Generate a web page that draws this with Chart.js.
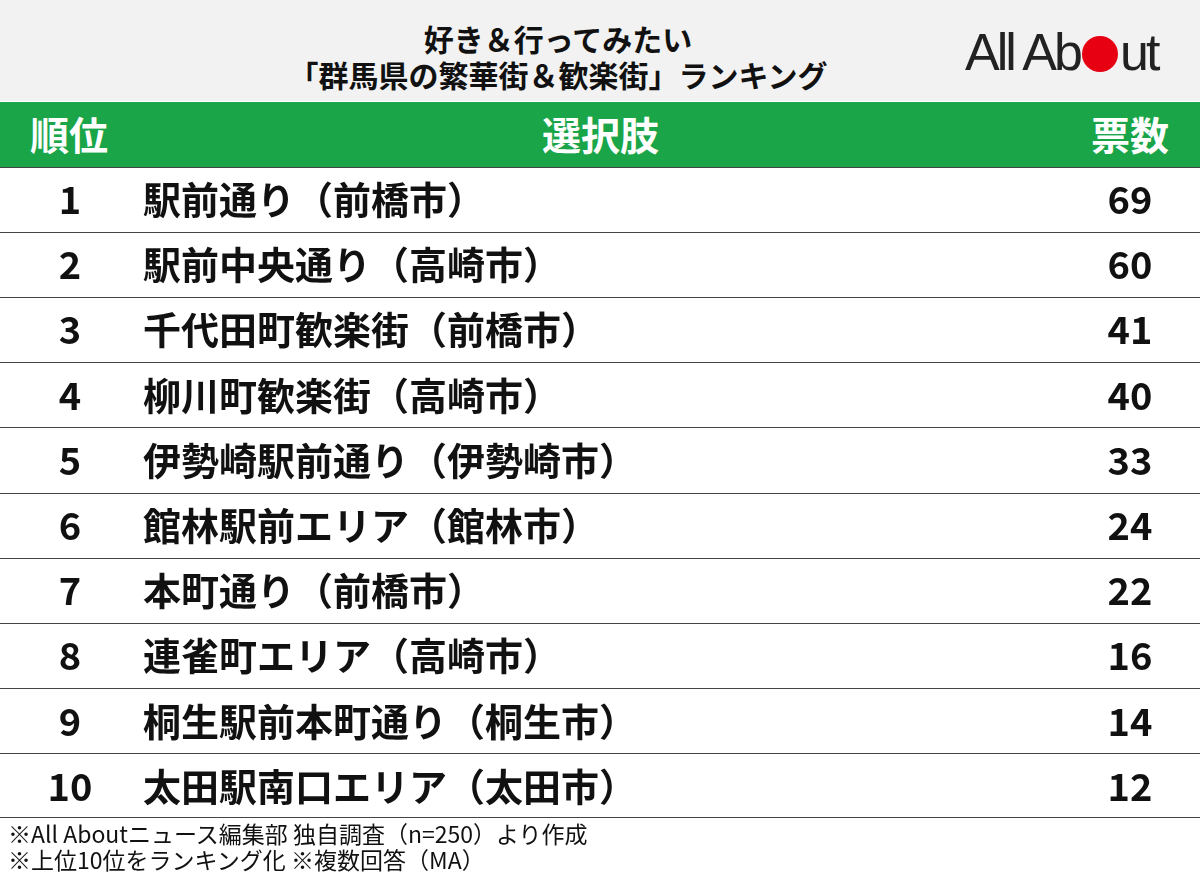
<!DOCTYPE html>
<html><head><meta charset="utf-8">
<script src="https://cdn.jsdelivr.net/npm/chart.js@4/dist/chart.umd.min.js"></script>
<style>
body{margin:0;width:1200px;height:885px;background:#fff;font-family:"Noto Sans CJK JP",sans-serif;overflow:hidden;position:relative}
#top{position:absolute;left:0;top:0;width:1200px;height:101px;background:#f2f2f2}
#title{position:absolute;left:0;width:1116px;top:20px;text-align:center;font-weight:bold;font-size:30px;line-height:36px;color:#111}
#logo{position:absolute;left:965px;top:22px;font-family:"Liberation Sans",Arial,sans-serif;font-size:52px;letter-spacing:-3px;color:#222}
#logo span{display:inline-block;width:36px;height:36px;border-radius:50%;background:#e60012;vertical-align:-2px;margin:0 2px}
#head{position:absolute;left:0;top:102px;width:1200px;height:65px;background:#1aa548;color:#fff;font-weight:bold;font-size:39px}
#head div{position:absolute;top:3px}
#wrap{position:absolute;left:0;top:167px;width:1200px;height:652px}
#foot{position:absolute;left:8px;top:820px;font-size:23px;line-height:26px;color:#111}
</style></head><body>
<div id="top"><div id="title">好き＆行ってみたい<br>「群馬県の繁華街＆歓楽街」ランキング</div>
<div id="logo">All Ab<span></span>ut</div></div>
<div id="head"><div style="left:30px">順位</div><div style="left:542px">選択肢</div><div style="left:1091px">票数</div></div>
<div id="wrap"><canvas id="c" width="1200" height="652"></canvas></div>
<div id="foot">※All Aboutニュース編集部 独自調査（n=250）より作成<br>※上位10位をランキング化 ※複数回答（MA）</div>
<script>
// table rows
const ranks = ["1","2","3","4","5","6","7","8","9","10"];
const names = ["駅前通り（前橋市）","駅前中央通り（高崎市）","千代田町歓楽街（前橋市）","柳川町歓楽街（高崎市）","伊勢崎駅前通り（伊勢崎市）","館林駅前エリア（館林市）","本町通り（前橋市）","連雀町エリア（高崎市）","桐生駅前本町通り（桐生市）","太田駅南口エリア（太田市）"];
const votes = [69,60,41,40,33,24,22,16,14,12];

const cellText = {
  id: "cellText",
  afterDraw(chart) {
    const ctx = chart.ctx, y = chart.scales.y;
    ctx.save();
    ctx.fillStyle = "#111";
    ctx.font = "bold 38px 'Noto Sans CJK JP'";
    ctx.textBaseline = "middle";
    ranks.forEach((r, i) => {
      const py = y.getPixelForValue(i);
      ctx.textAlign = "center"; ctx.fillText(r, 70, py);
      ctx.textAlign = "left"; ctx.fillText(names[i], 143, py);
      ctx.textAlign = "center"; ctx.fillText(String(votes[i]), 1130, py);
    });
    // bottom rule under last row
    ctx.strokeStyle = "#444"; ctx.lineWidth = 1;
    ctx.beginPath(); ctx.moveTo(0, chart.height - 1.5); ctx.lineTo(chart.width, chart.height - 1.5); ctx.stroke();
    ctx.restore();
  }
};

new Chart(document.getElementById("c"), {
  type: "bar",
  data: { labels: ranks, datasets: [{ data: votes, backgroundColor: "rgba(0,0,0,0)" }] },
  options: {
    indexAxis: "y", responsive: false, animation: false,
    layout: { padding: 0 },
    plugins: { legend: { display: false }, tooltip: { enabled: false } },
    scales: {
      x: { display: false, min: 0, max: 100 },
      y: { display: true, offset: true,
           ticks: { display: false },
           border: { display: false },
           grid: { offset: true, color: "#444", lineWidth: 1, drawTicks: false } }
    }
  },
  plugins: [cellText]
});
</script>
</body></html>
